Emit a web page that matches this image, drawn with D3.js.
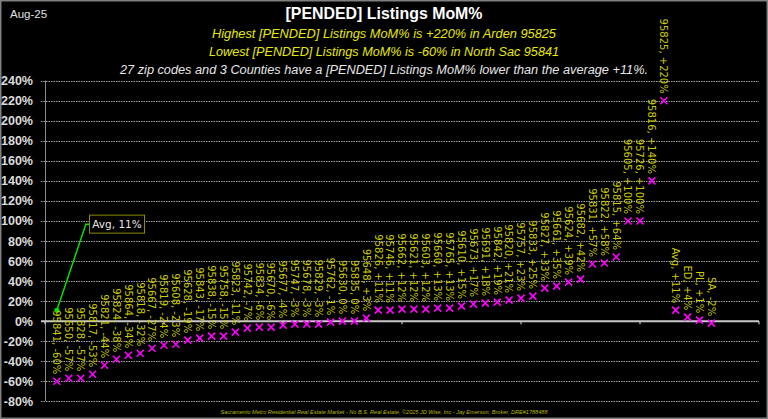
<!DOCTYPE html>
<html>
<head>
<meta charset="utf-8">
<script src="https://cdn.jsdelivr.net/npm/d3@7"></script>
<style>
  html, body { margin: 0; padding: 0; background: #000; }
  svg { display: block; }
</style>
</head>
<body>
<div id="chart"></div>
<script>
// zip codes, sorted low -> high, then the avg and the 3 counties
var zips = ["95841","95650","95828","95817","95821","95824","95864","95818","95667","95819",
	"95608","95628","95843","95838","95758","95823","95742","95834","95670","95677",
	"95747","95678","95829","95762","95630","95835","95648","95826","95746","95662",
	"95621","95603","95660","95765","95610","95673","95691","95842","95820","95757",
	"95833","95827","95661","95624","95682","95831","95822","95815","95605","95726",
	"95816","95825"];
var zipValues = [-60,-57,-57,-53,-44,-38,-34,-32,-27,-24,
	-23,-19,-17,-15,-15,-11,-7,-6,-6,-4,
	-3,-3,-3,-1,0,0,3,11,11,12,
	12,12,13,13,15,17,18,19,21,23,
	25,33,35,39,42,57,58,64,100,100,
	140,220];
var counties = ["Avg","ED","PL","SA"];
var countyValues = [11,4,1,-2];
var avgValue = 11;
var yTicks = [-80,-60,-40,-20,0,20,40,60,80,100,120,140,160,180,200,220,240];
var xTicks = [0,10,20,30,40,50,60];

(function(){
	var width = 768, height = 419;

	var points = [];
	zips.forEach(function(z, i){ points.push({name: z, v: zipValues[i]}); });
	counties.forEach(function(c, i){ points.push({name: c, v: countyValues[i]}); });
	points.forEach(function(d, i){ d.k = i + 1; });

	var x = d3.scaleLinear().domain([0, 60]).range([45, 759]);
	var y = d3.scaleLinear().domain([-80, 240]).range([401.3, 80.7]);

	var fmt = function(v){ return v > 0 ? "+" + v + "%" : v + "%"; };

	var svg = d3.select("#chart").append("svg")
		.attr("width", width)
		.attr("height", height);

	svg.append("rect")
		.attr("x", 0).attr("y", 0)
		.attr("width", width).attr("height", height)
		.attr("fill", "#000");

	svg.append("rect")
		.attr("x", 0.75).attr("y", 0.75)
		.attr("width", width - 1.5).attr("height", height - 1.5)
		.attr("fill", "none")
		.attr("stroke", "#7f7f7f")
		.attr("stroke-width", 1.5);

	// titles
	svg.append("text")
		.attr("x", 10).attr("y", 17.5)
		.attr("fill", "#e0e0e0")
		.style("font", "11.5px 'Liberation Sans', Arial, sans-serif")
		.text("Aug-25");

	svg.append("text")
		.attr("x", 384).attr("y", 18.5)
		.attr("text-anchor", "middle")
		.attr("fill", "#ffffff")
		.attr("textLength", 197).attr("lengthAdjust", "spacingAndGlyphs")
		.style("font", "bold 16.5px 'Liberation Sans', Arial, sans-serif")
		.text("[PENDED] Listings MoM%");

	var subs = [
		{t: "Highest [PENDED] Listings MoM% is +220% in Arden 95825", y: 37.5, c: "#e8e800", w: 344},
		{t: "Lowest [PENDED] Listings MoM% is -60% in North Sac 95841", y: 56, c: "#e8e800", w: 350},
		{t: "27 zip codes and 3 Counties have a [PENDED] Listings MoM% lower than the average +11%.", y: 74, c: "#e6e6e6", w: 528}
	];
	svg.selectAll("text.sub")
		.data(subs)
		.enter()
		.append("text")
		.attr("class", "sub")
		.attr("x", 384)
		.attr("y", function(d){ return d.y; })
		.attr("text-anchor", "middle")
		.attr("fill", function(d){ return d.c; })
		.attr("textLength", function(d){ return d.w; })
		.attr("lengthAdjust", "spacingAndGlyphs")
		.style("font", "italic 12.5px 'Liberation Sans', Arial, sans-serif")
		.text(function(d){ return d.t; });

	// grid
	var grid = svg.append("g").attr("class", "grid");
	grid.selectAll("line")
		.data(yTicks.filter(function(t){ return t !== 0; }))
		.enter()
		.append("line")
		.attr("x1", 41).attr("x2", x(60))
		.attr("y1", function(d){ return Math.round(y(d)) + 0.5; })
		.attr("y2", function(d){ return Math.round(y(d)) + 0.5; })
		.attr("stroke", "#a0a0a0")
		.attr("stroke-width", 1)
		.attr("stroke-dasharray", "1.5,1");

	// y axis
	svg.append("line")
		.attr("x1", 45.5).attr("x2", 45.5)
		.attr("y1", y(240)).attr("y2", y(-80))
		.attr("stroke", "#8a8a8a");

	svg.append("g")
		.selectAll("text")
		.data(yTicks)
		.enter()
		.append("text")
		.attr("x", 33)
		.attr("y", function(d){ return y(d); })
		.attr("dy", "0.36em")
		.attr("text-anchor", "end")
		.attr("fill", "#dcdcdc")
		.style("font", "bold 12.5px 'Liberation Sans', Arial, sans-serif")
		.text(function(d){ return d + "%"; });

	// zero line with category ticks
	svg.append("line")
		.attr("x1", 41).attr("x2", x(60))
		.attr("y1", y(0)).attr("y2", y(0))
		.attr("stroke", "#c8c8c8")
		.attr("stroke-width", 2);
	svg.append("g")
		.selectAll("line")
		.data(xTicks)
		.enter()
		.append("line")
		.attr("x1", function(d){ return x(d); })
		.attr("x2", function(d){ return x(d); })
		.attr("y1", y(0)).attr("y2", y(0) + 3)
		.attr("stroke", "#c8c8c8")
		.attr("stroke-width", 1.2);

	// avg callout
	var ax = x(1), ay = y(avgValue);
	var bx = ax + 32.6, by = ay - 95;
	svg.append("polyline")
		.attr("points", [[ax, ay], [bx - 3.6, by + 9], [bx, by + 9]].map(function(p){ return p.join(","); }).join(" "))
		.attr("fill", "none")
		.attr("stroke", "#00e600")
		.attr("stroke-width", 1.5);
	svg.append("circle")
		.attr("cx", ax).attr("cy", ay)
		.attr("r", 2.5)
		.attr("fill", "#00e600");
	svg.append("rect")
		.attr("x", bx).attr("y", by)
		.attr("width", 55).attr("height", 18)
		.attr("fill", "#000")
		.attr("stroke", "#8c8c00")
		.attr("stroke-width", 1);
	svg.append("text")
		.attr("x", bx + 27.5).attr("y", by + 9)
		.attr("dy", "0.36em")
		.attr("text-anchor", "middle")
		.attr("fill", "#e6e6e6")
		.style("font", "10.5px 'DejaVu Sans', Verdana, sans-serif")
		.text("Avg,  " + avgValue + "%");

	// markers
	var s = 3.5;
	var marks = svg.append("g").attr("class", "marks");
	marks.selectAll("path")
		.data(points)
		.enter()
		.append("path")
		.attr("d", function(d){
			var px = x(d.k), py = y(d.v);
			return "M" + (px - s) + "," + (py - s) + "L" + (px + s) + "," + (py + s) +
				"M" + (px - s) + "," + (py + s) + "L" + (px + s) + "," + (py - s);
		})
		.attr("stroke", "#ff00ff")
		.attr("stroke-width", 1.6)
		.attr("fill", "none");

	// data labels
	svg.append("g")
		.selectAll("text")
		.data(points)
		.enter()
		.append("text")
		.attr("transform", function(d){ return "translate(" + x(d.k) + "," + (y(d.v) - 7) + ") rotate(90)"; })
		.attr("text-anchor", "end")
		.attr("dy", "0.36em")
		.attr("fill", "#cccc00")
		.style("font", "10px 'DejaVu Sans', Verdana, sans-serif")
		.text(function(d){ return d.name + ", " + fmt(d.v); });

	// footer
	svg.append("text")
		.attr("x", 384).attr("y", 414)
		.attr("text-anchor", "middle")
		.attr("fill", "#b8b800")
		.attr("textLength", 327).attr("lengthAdjust", "spacingAndGlyphs")
		.style("font", "italic 6px 'Liberation Sans Narrow', 'Liberation Sans', Arial, sans-serif")
		.text("Sacramento Metro Residential Real Estate Market - No B.S. Real Estate, \u00a92025 JD Wise, Inc - Jay Emerson, Broker, DRE#1788488");
})();
</script>
</body>
</html>
